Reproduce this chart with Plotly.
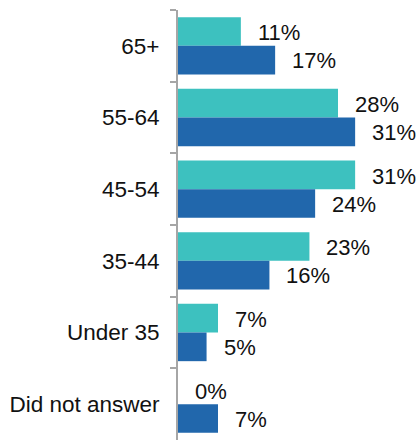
import plotly.graph_objects as go

categories = ["65+", "55-64", "45-54", "35-44", "Under 35", "Did not answer"]
series_a = [11, 28, 31, 23, 7, 0]
series_b = [17, 31, 24, 16, 5, 7]
labels_a = [f"{v}%" for v in series_a]
labels_b = [f"{v}%" for v in series_b]

teal = "#3DC1BF"
blue = "#2167AC"
font = "Liberation Sans, Arial, sans-serif"

fig = go.Figure()
fig.add_trace(go.Bar(y=categories, x=series_a, orientation="h", marker_color=teal,
                     marker_line_width=0, name="A"))
fig.add_trace(go.Bar(y=categories, x=series_b, orientation="h", marker_color=blue,
                     marker_line_width=0, name="B"))

# value labels placed at bar ends
for idx, (vals, labs) in enumerate([(series_a, labels_a), (series_b, labels_b)]):
    yshift = 13 if idx == 0 else -15
    for c, v, t in zip(categories, vals, labs):
        fig.add_annotation(x=v, y=c, text=t, showarrow=False, xanchor="left",
                           xshift=15, yshift=yshift,
                           font=dict(family=font, size=22, color="#111111"))

fig.update_layout(
    width=418, height=445,
    margin=dict(l=178, r=0, t=10, b=5),
    barmode="group", bargap=0.2, bargroupgap=0,
    showlegend=False,
    plot_bgcolor="white", paper_bgcolor="white",
    font=dict(family=font, size=22, color="#111111"),
)
fig.update_xaxes(range=[0, 42], visible=False)
fig.update_yaxes(autorange="reversed", showline=True, linecolor="#A6A6A6", linewidth=2,
                 ticks="outside", tickson="boundaries", ticklen=6, tickcolor="#A6A6A6",
                 tickwidth=2, showgrid=False, ticklabelstandoff=12,
                 tickfont=dict(family=font, size=22.5, color="#111111"))

fig.write_html("out.html")
